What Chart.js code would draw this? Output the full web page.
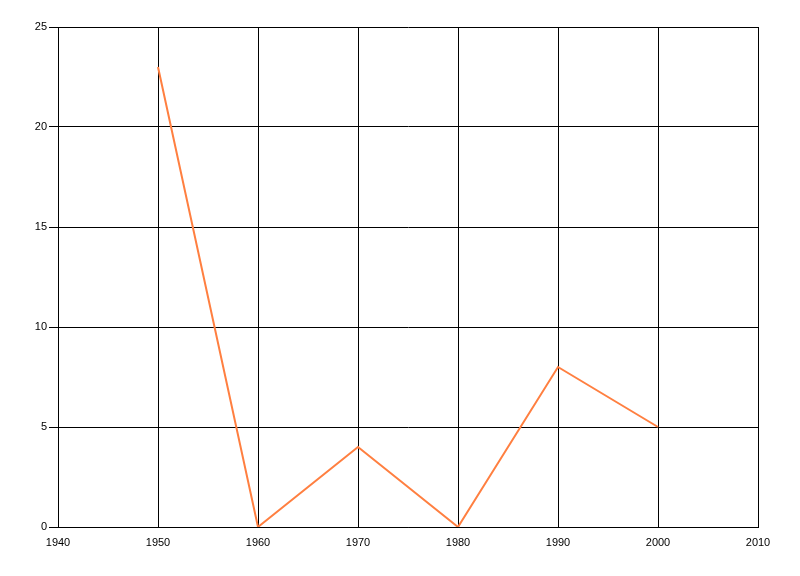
<!DOCTYPE html>
<html>
<head>
<meta charset="utf-8">
<script src="https://cdn.jsdelivr.net/npm/chart.js@4"></script>
<style>
  html, body { margin: 0; padding: 0; background: #fff; }
  #wrap { width: 800px; height: 576px; }
</style>
</head>
<body>
<div id="wrap"><canvas id="lineChart" width="800" height="576"></canvas></div>
<script>
const years = [1950, 1960, 1970, 1980, 1990, 2000];
const values = [23, 0, 4, 0, 8, 5];
const xMin = 1940, xMax = 2010, xStep = 10;
const yMin = 0, yMax = 25, yStep = 5;

const ctx = document.getElementById("lineChart");

const points = years.map((y, i) => ({ x: y, y: values[i] }));

const chart = new Chart(ctx, {
    type: "line",
    data: {
        datasets: [{
            data: points,
            borderColor: "#ff7f40",
            backgroundColor: "#ff7f40",
            borderWidth: 2,
            pointRadius: 0,
            tension: 0
        }]
    },
    options: {
        responsive: false,
        animation: false,
        layout: { padding: { top: 27, right: 42, left: 0, bottom: 0 } },
        plugins: {
            legend: { display: false },
            tooltip: { enabled: false }
        },
        scales: {
            x: {
                type: "linear",
                min: xMin,
                max: xMax,
                afterFit: (scale) => { scale.height = 49; },
                ticks: {
                    stepSize: xStep,
                    color: "#000",
                    padding: 9,
                    font: { family: "Liberation Sans", size: 11 },
                    callback: (v) => String(v)
                },
                grid: { color: "#000", lineWidth: 1, drawTicks: false },
                border: { color: "#000", width: 1 }
            },
            y: {
                min: yMin,
                max: yMax,
                afterFit: (scale) => { scale.width = 58; },
                ticks: {
                    stepSize: yStep,
                    color: "#000",
                    padding: 2,
                    font: { family: "Liberation Sans", size: 11 }
                },
                grid: { color: "#000", lineWidth: 1, tickLength: 9 },
                border: { color: "#000", width: 1 }
            }
        }
    }
});
</script>
</body>
</html>
